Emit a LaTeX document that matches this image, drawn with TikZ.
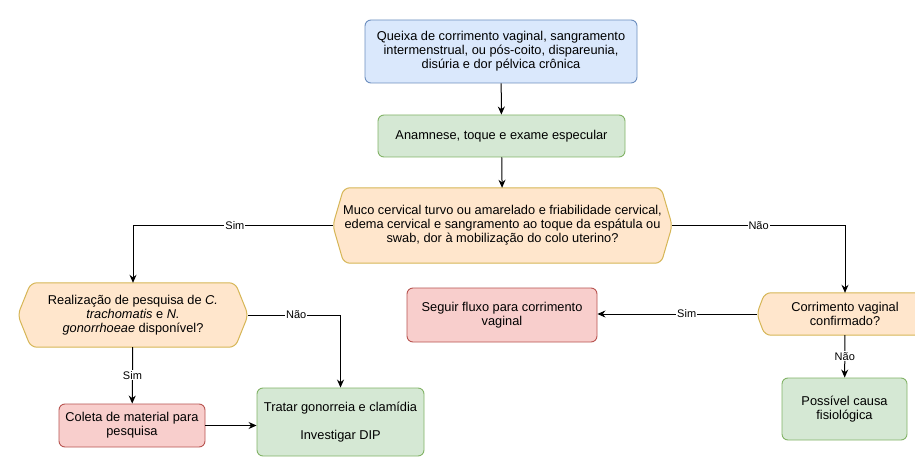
\documentclass[tikz,border=0pt]{standalone}
\usepackage{fontspec}
\setmainfont{Liberation Sans}
\usetikzlibrary{arrows.meta,backgrounds}
\definecolor{qblue}{HTML}{DAE8FC}
\definecolor{qbluedraw}{HTML}{6C8EBF}
\definecolor{qgreen}{HTML}{D5E8D4}
\definecolor{qgreendraw}{HTML}{82B366}
\definecolor{qred}{HTML}{F8CECC}
\definecolor{qreddraw}{HTML}{B85450}
\definecolor{qorange}{HTML}{FFE6CC}
\definecolor{qorangedraw}{HTML}{D6B656}

\newcommand{\hexframe}[2]{%
  \begin{scope}[on background layer]
    \draw[hexline] ([xshift=#2]#1.north west) -- (#1.west) -- ([xshift=#2]#1.south west)
      -- ([xshift=-#2]#1.south east) -- (#1.east) -- ([xshift=-#2]#1.north east) -- cycle;
  \end{scope}}

\begin{document}
\begin{tikzpicture}[x=1pt,y=-1pt,
    txt/.style={align=center,font=\fontsize{12.8}{14}\selectfont},
    box/.style={txt,draw,rounded corners=6pt,line width=0.9pt,inner sep=0pt},
    bluebox/.style={box,fill=qblue,draw=qbluedraw},
    greenbox/.style={box,fill=qgreen,draw=qgreendraw},
    redbox/.style={box,fill=qred,draw=qreddraw},
    hexnode/.style={txt,inner sep=0pt},
    hexline/.style={draw=qorangedraw,fill=qorange,rounded corners=6pt,line width=1pt},
    arr/.style={-{Stealth[length=8pt,width=7pt]},line width=1pt},
    lbl/.style={fill=white,inner sep=1pt,font=\fontsize{11}{12}\selectfont}]
  \useasboundingbox (0,0) rectangle (915,457);
  \begin{scope}[on background layer]
    \fill[white] (0,0) rectangle (915,457);
  \end{scope}

  \node[bluebox,minimum width=272pt,minimum height=63pt] (queixa) at (501,51.5)
    {Queixa de corrimento vaginal, sangramento\\intermenstrual, ou pós-coito, dispareunia,\\disúria e dor pélvica crônica};
  \node[greenbox,minimum width=247pt,minimum height=42pt] (anamnese) at (501.5,136)
    {Anamnese, toque e exame especular};
  \node[hexnode,minimum width=339pt,minimum height=75pt] (muco) at (502.5,225.5)
    {Muco cervical turvo ou amarelado e friabilidade cervical,\\edema cervical e sangramento ao toque da espátula ou\\swab, dor à mobilização do colo uterino?};
  \hexframe{muco}{11}
  \node[hexnode,minimum width=230pt,minimum height=64pt] (pesquisa) at (133,315)
    {Realização de pesquisa de \textit{C.}\\\textit{trachomatis} e \textit{N.}\\\textit{gonorrhoeae} disponível?};
  \hexframe{pesquisa}{13}
  \node[hexnode,minimum width=176pt,minimum height=42pt] (corrimento) at (845,314)
    {Corrimento vaginal\\confirmado?};
  \hexframe{corrimento}{8}
  \node[redbox,minimum width=190pt,minimum height=54pt] (seguir) at (502,315)
    {Seguir fluxo para corrimento\\vaginal};
  \node[redbox,minimum width=146pt,minimum height=43pt] (coleta) at (132,425.5)
    {Coleta de material para\\pesquisa};
  \node[greenbox,minimum width=167pt,minimum height=68pt] (tratar) at (340.5,422)
    {Tratar gonorreia e clamídia\\[14pt]Investigar DIP};
  \node[greenbox,minimum width=125pt,minimum height=62pt] (fisio) at (844.5,409)
    {Possível causa\\fisiológica};

  \draw[arr] (queixa) -- (anamnese);
  \draw[arr] (anamnese) -- (muco);
  \draw[arr] (muco.west) -| node[lbl,pos=0.245] {Sim} (pesquisa.north);
  \draw[arr] (muco.east) -| node[lbl,pos=0.25] {Não} (corrimento.north);
  \draw[arr] (pesquisa.east) -| node[lbl,pos=0.26] {Não} (tratar.north);
  \draw[arr] (pesquisa) -- node[lbl] {Sim} (coleta);
  \draw[arr] (coleta.east) -- (coleta.east -| tratar.west);
  \draw[arr] (corrimento.west) -- node[lbl,pos=0.44] {Sim} (corrimento.west -| seguir.east);
  \draw[arr] (corrimento) -- node[lbl] {Não} (fisio);
\end{tikzpicture}
\end{document}
